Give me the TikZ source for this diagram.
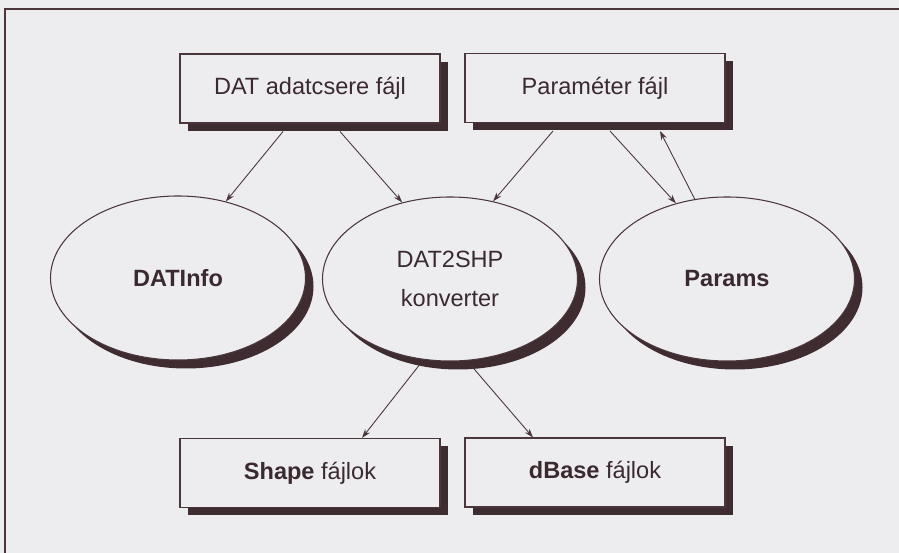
\documentclass[tikz,border=0pt]{standalone}
\usepackage{fontspec}
\setmainfont{Liberation Sans}
\usetikzlibrary{shapes.geometric,shadows,arrows.meta}
\definecolor{PaperGray}{HTML}{EDEDEF}
\definecolor{InkBrown}{HTML}{4A363B}
\definecolor{ShadeBrown}{HTML}{3E2C31}
\definecolor{TextDark}{HTML}{3A2A30}

\tikzset{
  filebox/.style={draw=InkBrown, line width=0.6pt, fill=PaperGray,
    minimum width=5.2cm, minimum height=1.38cm,
    drop shadow={shadow xshift=0.15cm, shadow yshift=-0.16cm, fill=ShadeBrown, opacity=1}},
  tool/.style={ellipse, draw=InkBrown, line width=0.6pt, fill=PaperGray, inner sep=0pt,
    minimum width=5.1cm, minimum height=3.28cm,
    drop shadow={shadow xshift=0.16cm, shadow yshift=-0.17cm, fill=ShadeBrown, opacity=1}},
  flow/.style={InkBrown, line width=0.5pt, -{Stealth[length=1.8mm,width=1.2mm]}}
}

\begin{document}
\begin{tikzpicture}[every node/.style={font=\fontsize{13.4}{22}\selectfont, text=TextDark}]
  \useasboundingbox (0,0) rectangle (17.98,11.06);
  \fill[PaperGray] (0,0) rectangle (17.98,11.06);
  \draw[InkBrown, line width=0.9pt] (0.1,-0.5) -- (0.1,10.88) -- (18.5,10.88);

  % input files
  \node[filebox] (dat) at (6.2,9.29) {DAT adatcsere fájl};
  \node[filebox] (par) at (11.9,9.3) {Paraméter fájl};

  % programs
  \node[tool] (info) at (3.56,5.5) {\bfseries DATInfo};
  \node[tool, align=center] (conv) at (9.0,5.48) {DAT2SHP\\konverter};
  \node[tool] (params) at (14.54,5.48) {\bfseries Params};

  % output files
  \node[filebox] (shp) at (6.2,1.6) {\textbf{Shape} fájlok};
  \node[filebox] (dbf) at (11.9,1.61) {\textbf{dBase} fájlok};

  \draw[flow] ([xshift=-0.54cm, yshift=-0.16cm]dat.south) -- (info.58);
  \draw[flow] ([xshift=0.6cm, yshift=-0.16cm]dat.south) -- (conv.122);
  \draw[flow] ([xshift=-0.84cm, yshift=-0.16cm]par.south) -- (conv.61);
  \draw[flow] ([xshift=0.3cm, yshift=-0.16cm]par.south) -- (params.124);
  \draw[flow] (params.112) -- ([xshift=1.3cm, yshift=-0.16cm]par.south);
  \draw[flow] ([yshift=-0.12cm]conv.249) -- ([xshift=1.04cm]shp.north);
  \draw[flow] ([yshift=-0.12cm]conv.285) -- ([xshift=-1.24cm]dbf.north);
\end{tikzpicture}
\end{document}
